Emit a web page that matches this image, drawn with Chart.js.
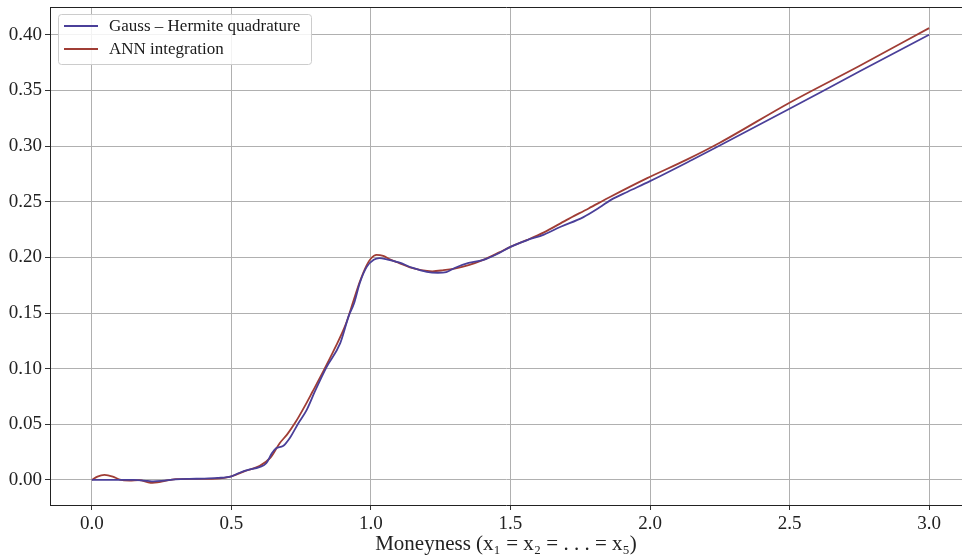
<!DOCTYPE html>
<html>
<head>
<meta charset="utf-8">
<script src="https://cdn.jsdelivr.net/npm/chart.js@4.4.1/dist/chart.umd.min.js"></script>
<style>
	html, body { margin: 0; padding: 0; background: #fff; overflow: hidden; }
</style>
</head>
<body>
<canvas id="chart" width="962" height="559"></canvas>
<script>

// Gauss-Hermite quadrature (reference curve)
var ghX = [0, 0.05, 0.10, 0.15, 0.20, 0.22, 0.25, 0.30, 0.35, 0.40, 0.45, 0.50, 0.53, 0.56, 0.60, 0.625,
	0.645, 0.66, 0.685, 0.71, 0.74, 0.77, 0.80, 0.84, 0.89, 0.92, 0.94, 0.96, 0.985, 1.01, 1.03, 1.06,
	1.10, 1.15, 1.20, 1.24, 1.27, 1.30, 1.35, 1.40, 1.46, 1.50, 1.56, 1.62, 1.68, 1.76, 1.82, 1.86,
	1.92, 2.00, 2.15, 2.25, 2.50, 2.75, 3.00];
var ghY = [0, 0, 0, 0, -0.0008, -0.0012, -0.0008, 0.0005, 0.001, 0.0012, 0.0018, 0.0033, 0.0065, 0.009, 0.0115, 0.015,
	0.024, 0.0285, 0.0305, 0.038, 0.051, 0.063, 0.080, 0.101, 0.123, 0.147, 0.159, 0.177, 0.1915, 0.1978, 0.1993, 0.198,
	0.1955, 0.1905, 0.187, 0.1862, 0.1868, 0.1905, 0.195, 0.1975, 0.204, 0.2095, 0.2155, 0.2205, 0.2275, 0.236, 0.245, 0.2517,
	0.259, 0.2685, 0.2875, 0.3005, 0.3335, 0.367, 0.400];

// ANN integration
var annX = [0, 0.02, 0.045, 0.075, 0.10, 0.135, 0.17, 0.21, 0.25, 0.30, 0.38, 0.46, 0.50, 0.55, 0.60, 0.64,
	0.673, 0.70, 0.73, 0.76, 0.79, 0.83, 0.87, 0.91, 0.94, 0.96, 0.985, 1.00, 1.02, 1.044, 1.07, 1.10,
	1.14, 1.18, 1.22, 1.26, 1.30, 1.35, 1.40, 1.46, 1.50, 1.56, 1.62, 1.70, 1.78, 1.86, 1.99, 2.13,
	2.25, 2.50, 2.75, 3.00];
var annY = [0, 0.003, 0.0045, 0.003, 0.0003, -0.0005, -0.0002, -0.0025, -0.0015, 0.0008, 0.001, 0.0015, 0.0033, 0.0082, 0.0125, 0.020,
	0.033, 0.041, 0.052, 0.065, 0.079, 0.098, 0.118, 0.140, 0.163, 0.178, 0.193, 0.199, 0.2022, 0.2013, 0.198, 0.195,
	0.191, 0.1885, 0.1875, 0.1885, 0.190, 0.193, 0.1975, 0.2045, 0.2095, 0.2157, 0.2225, 0.2335, 0.244, 0.2547, 0.2712, 0.2876,
	0.303, 0.339, 0.372, 0.406];

var xTicks = [0, 0.5, 1.0, 1.5, 2.0, 2.5, 3.0];
var yTicks = [0, 0.05, 0.10, 0.15, 0.20, 0.25, 0.30, 0.35, 0.40];

var seriesNames = ["Gauss \u2013 Hermite quadrature", "ANN integration"];
var seriesColors = ["#4a3f99", "#a03d35"];

var serif = "'Liberation Serif', 'DejaVu Serif', serif";

function toPoints(xs, ys) {
	var out = [];
	for (var i = 0; i < xs.length; i++) out.push({ x: xs[i], y: ys[i] });
	return out;
}

// top spine (matplotlib box)
var topSpine = {
	id: "topSpine",
	afterDraw: function (chart) {
		var ctx = chart.ctx, a = chart.chartArea;
		ctx.save();
		ctx.strokeStyle = "#222";
		ctx.lineWidth = 1;
		ctx.beginPath();
		ctx.moveTo(a.left, a.top + 0.5);
		ctx.lineTo(a.right + 10, a.top + 0.5);
		ctx.stroke();
		ctx.restore();
	}
};

// legend box in the upper left, like matplotlib
var boxLegend = {
	id: "boxLegend",
	afterDraw: function (chart) {
		var ctx = chart.ctx;
		var x0 = 58.5, y0 = 14.5, w = 253, h = 50;
		ctx.save();
		ctx.fillStyle = "rgba(255,255,255,0.85)";
		ctx.strokeStyle = "#cccccc";
		ctx.lineWidth = 1;
		ctx.beginPath();
		ctx.roundRect(x0, y0, w, h, 3);
		ctx.fill();
		ctx.stroke();
		ctx.font = "17px " + serif;
		ctx.textBaseline = "middle";
		chart.data.datasets.forEach(function (ds, i) {
			var y = 26 + i * 23;
			ctx.strokeStyle = ds.borderColor;
			ctx.lineWidth = 2;
			ctx.beginPath();
			ctx.moveTo(64, y);
			ctx.lineTo(98, y);
			ctx.stroke();
			ctx.fillStyle = "#1a1a1a";
			ctx.fillText(ds.label, 109, y + 1);
		});
		ctx.restore();
	}
};

var chart = new Chart(document.getElementById("chart"), {
	type: "line",
	data: {
		datasets: [
			{
				label: seriesNames[0],
				data: toPoints(ghX, ghY),
				borderColor: seriesColors[0],
				borderWidth: 1.8,
				pointRadius: 0,
				cubicInterpolationMode: "monotone"
			},
			{
				label: seriesNames[1],
				data: toPoints(annX, annY),
				borderColor: seriesColors[1],
				borderWidth: 1.8,
				pointRadius: 0,
				cubicInterpolationMode: "monotone"
			}
		]
	},
	options: {
		responsive: false,
		animation: false,
		events: [],
		layout: { padding: { top: 7, right: 0, left: 0, bottom: 0 } },
		plugins: {
			legend: { display: false },
			tooltip: { enabled: false }
		},
		scales: {
			x: {
				type: "linear",
				min: -0.15,
				max: 3.118,
				afterBuildTicks: function (scale) {
					scale.ticks = xTicks.map(function (v) { return { value: v }; });
				},
				afterFit: function (scale) {
					scale.height = 54;
					scale.paddingLeft = 0;
					scale.paddingRight = 0;
				},
				grid: { color: "#b0b0b0", lineWidth: 1, tickColor: "#333", tickLength: 5 },
				border: { color: "#222", width: 1 },
				ticks: {
					color: "#222",
					padding: 3,
					maxRotation: 0,
					font: { family: serif, size: 19 },
					callback: function (v) { return v.toFixed(1); }
				},
				title: {
					display: true,
					text: "Moneyness (x\u2081 = x\u2082 = . . . = x\u2085)",
					color: "#222",
					font: { family: serif, size: 21 },
					padding: { top: 0, bottom: 2 }
				}
			},
			y: {
				type: "linear",
				min: -0.0225,
				max: 0.425,
				afterBuildTicks: function (scale) {
					scale.ticks = yTicks.map(function (v) { return { value: v }; });
				},
				afterFit: function (scale) {
					scale.width = 50;
					scale.paddingTop = 0;
					scale.paddingBottom = 0;
				},
				grid: { color: "#b0b0b0", lineWidth: 1, tickColor: "#333", tickLength: 5 },
				border: { color: "#222", width: 1 },
				ticks: {
					color: "#222",
					padding: 3,
					font: { family: serif, size: 19 },
					callback: function (v) { return v.toFixed(2); }
				}
			}
		}
	},
	plugins: [topSpine, boxLegend]
});
</script>
</body>
</html>
